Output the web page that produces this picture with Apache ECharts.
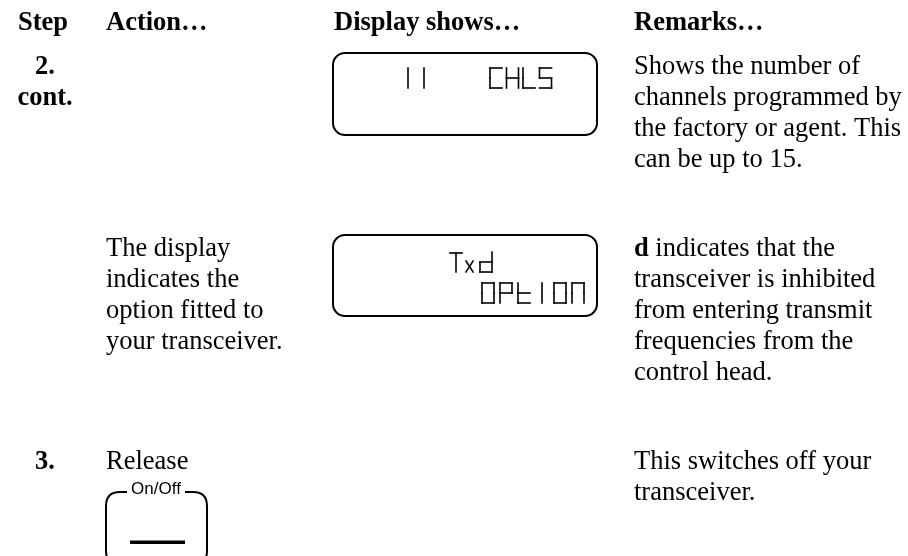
<!DOCTYPE html>
<html>
<head>
<meta charset="utf-8">
<script src="https://cdn.jsdelivr.net/npm/echarts@6/dist/echarts.min.js"></script>
<style>
html,body{margin:0;padding:0;background:#fff;}
#c{width:908px;height:556px;}
</style>
</head>
<body>
<div id="c"></div>
<script>
// ---- content ----
var headers = ['Step', 'Action…', 'Display shows…', 'Remarks…'];
var steps = ['2.\ncont.', '', '3.'];
var actions = ['', 'The display\nindicates the\noption fitted to\nyour transceiver.', 'Release'];
var lcdRow1 = ['11', 'CHLS'];
var lcdRow2 = ['Tx d', 'OPtION'];
var remarks = [
  'Shows the number of\nchannels programmed by\nthe factory or agent. This\ncan be up to 15.',
  '{b|d} indicates that the\ntransceiver is inhibited\nfrom entering transmit\nfrequencies from the\ncontrol head.',
  'This switches off your\ntransceiver.'
];
var buttonLabel = 'On/Off';

// ---- layout ----
var FS = 26.5, LH = 31;
var SERIF = 'Liberation Serif, Times New Roman, serif';
var SANS = 'Liberation Sans, Arial, sans-serif';
var colX = [45, 106, 334, 634];
var headerBase = 32;
var rowBase = [76, 258, 471];

function topFromBase(b, fs, lh) { return b - 0.3375 * fs - lh / 2; }

var g = [];
function txt(x, base, text, opt) {
  opt = opt || {};
  var fs = opt.fs || FS;
  var lh = opt.lh || LH;
  var st = {
    text: text, x: x, y: topFromBase(base, fs, lh),
    font: (opt.bold ? 'bold ' : '') + fs + 'px ' + (opt.family || SERIF),
    fill: '#000', textAlign: opt.align || 'left', textVerticalAlign: 'top',
    lineHeight: lh
  };
  if (opt.rich) st.rich = opt.rich;
  g.push({ type: 'text', silent: true, style: st });
}

headers.forEach(function (h, i) {
  txt(i === 0 ? 18 : colX[i], headerBase, h, { bold: true });
});
steps.forEach(function (s, i) {
  if (s) txt(colX[0], rowBase[i], s, { bold: true, align: 'center' });
});
actions.forEach(function (a, i) {
  if (a) txt(colX[1], rowBase[i], a);
});
remarks.forEach(function (r, i) {
  txt(colX[3], rowBase[i], r, {
    rich: { b: { font: 'bold ' + FS + 'px ' + SERIF, fill: '#000', lineHeight: LH } }
  });
});

// LCD frames
var lcdBoxes = [[333, 53, 264, 82], [333, 235, 264, 81]];
lcdBoxes.forEach(function (b) {
  g.push({ type: 'rect', silent: true, shape: { x: b[0], y: b[1], width: b[2], height: b[3], r: 12 },
    style: { fill: 'none', stroke: '#000', lineWidth: 2 } });
});

// seven-segment style glyphs
var SEG = {
  'C': 'afed', 'H': 'fegbc', 'L': 'fed', 'S': 'afgcd', 'O': 'abcdef', '0': 'abcdef',
  'P': 'abfge', 't': 'fegd', 'N': 'abcef', 'd': 'bcged'
};
var segStyle = { stroke: '#000', lineWidth: 1.6, lineCap: 'square' };
function seg(x1, y1, x2, y2) {
  g.push({ type: 'line', silent: true, shape: { x1: x1, y1: y1, x2: x2, y2: y2 }, style: segStyle });
}
function glyph(ch, x, y, w, h) {
  var m = y + h / 2;
  if (ch === '1' || ch === 'I') { seg(x + w / 2, y, x + w / 2, y + h); return; }
  if (ch === 'T') { seg(x, y + 1, x + w, y + 1); seg(x + w / 2, y + 1, x + w / 2, y + h); return; }
  if (ch === 'x') { seg(x + 1, y + h * 0.45, x + w - 1, y + h); seg(x + w - 1, y + h * 0.45, x + 1, y + h); return; }
  var s = SEG[ch] || '';
  if (s.indexOf('a') >= 0) seg(x, y, x + w, y);
  if (s.indexOf('b') >= 0) seg(x + w, y, x + w, m);
  if (s.indexOf('c') >= 0) seg(x + w, m, x + w, y + h);
  if (s.indexOf('d') >= 0) seg(x, y + h, x + w, y + h);
  if (s.indexOf('e') >= 0) seg(x, m, x, y + h);
  if (s.indexOf('f') >= 0) seg(x, y, x, m);
  if (s.indexOf('g') >= 0) seg(x, m, x + w, m);
}
function lcdLine(str, x0, y, pitch, w, h) {
  for (var i = 0; i < str.length; i++) {
    if (str[i] !== ' ') glyph(str[i], x0 + i * pitch, y, w, h);
  }
}
lcdLine(lcdRow1[0], 402, 68, 16, 12, 20);
lcdLine(lcdRow1[1], 490, 68, 16.5, 12, 20);
glyph('T', 450, 252, 12, 20);
glyph('x', 465, 252, 9, 20);
glyph('d', 480, 252, 12, 20);
lcdLine(lcdRow2[1], 482, 283, 18, 12, 20);

// On/Off button frame
var fr = { stroke: '#000', lineWidth: 2, fill: 'none' };
g.push({ type: 'line', silent: true, shape: { x1: 106, y1: 506, x2: 106, y2: 551 }, style: fr });
g.push({ type: 'line', silent: true, shape: { x1: 207, y1: 506, x2: 207, y2: 551 }, style: fr });
g.push({ type: 'line', silent: true, shape: { x1: 120, y1: 492, x2: 127, y2: 492 }, style: fr });
g.push({ type: 'line', silent: true, shape: { x1: 185, y1: 492, x2: 193, y2: 492 }, style: fr });
g.push({ type: 'bezierCurve', silent: true, shape: { x1: 106, y1: 506, cpx1: 106, cpy1: 492, x2: 120, y2: 492 }, style: fr });
g.push({ type: 'bezierCurve', silent: true, shape: { x1: 193, y1: 492, cpx1: 207, cpy1: 492, x2: 207, y2: 506 }, style: fr });
g.push({ type: 'bezierCurve', silent: true, shape: { x1: 106, y1: 551, cpx1: 106, cpy1: 563, x2: 118, y2: 563 }, style: fr });
g.push({ type: 'bezierCurve', silent: true, shape: { x1: 207, y1: 551, cpx1: 207, cpy1: 563, x2: 195, y2: 563 }, style: fr });
g.push({ type: 'rect', silent: true, shape: { x: 130, y: 540.5, width: 55, height: 3.5 },
  style: { fill: '#000' } });
g.push({ type: 'text', silent: true, style: {
  text: buttonLabel, x: 156, y: 489.5, font: '17px ' + SANS, fill: '#000',
  textAlign: 'center', textVerticalAlign: 'middle' } });

var chart = echarts.init(document.getElementById('c'), null, { renderer: 'canvas' });
chart.setOption({ backgroundColor: '#fff', animation: false, graphic: { elements: g } });
</script>
</body>
</html>
